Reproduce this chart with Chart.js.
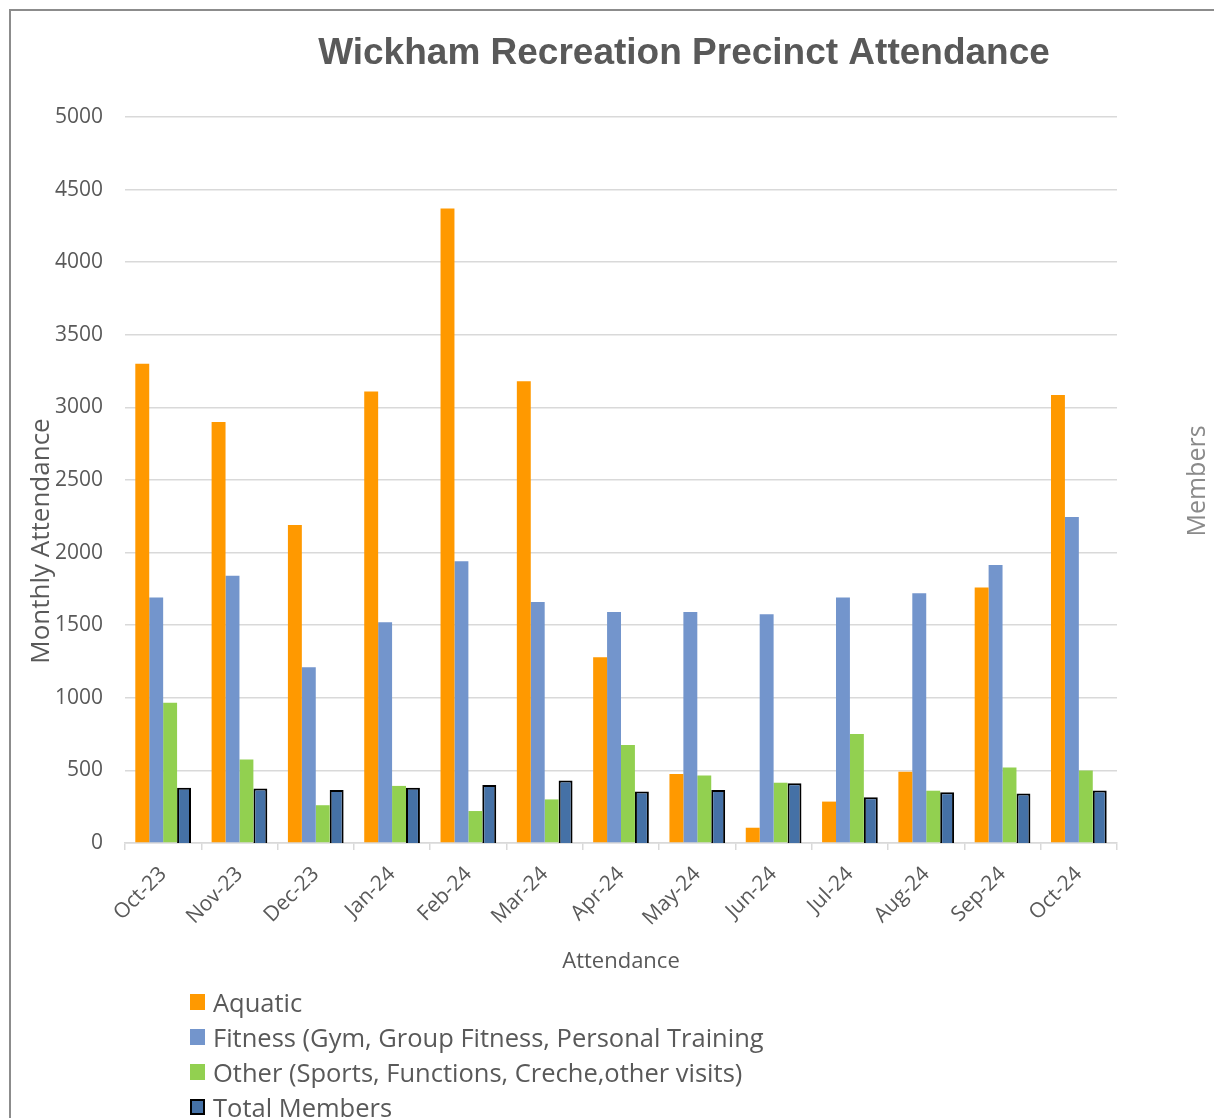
<!DOCTYPE html>
<html lang="en">
<head>
    <meta charset="UTF-8">
    <meta name="viewport" content="width=device-width, initial-scale=1.0">
    <title>Wickham Recreation Precinct Attendance</title>
    <script src="https://cdn.jsdelivr.net/npm/chart.js"></script>
    <style>
        html, body { margin: 0; padding: 0; overflow: hidden; background: #fff; }
        body { width: 1214px; height: 1118px; position: relative; font-family: "Open Sans", sans-serif; }
        .frame {
            position: absolute; left: 9px; top: 9px; width: 1400px; height: 1400px;
            border-left: 2px solid #8c8c8c; border-top: 2px solid #8c8c8c;
        }
        .chart-box { position: absolute; left: 0; top: 0; width: 1214px; height: 985px; }
        .legend { position: absolute; left: 190px; top: 984px; list-style: none; margin: 0; padding: 0; }
        .legend li { display: flex; align-items: center; height: 35px; font-size: 25.5px; color: #595959; white-space: nowrap; }
        .legend .box { width: 15px; height: 16px; margin-right: 8px; box-sizing: border-box; }
    </style>
</head>
<body>
    <div class="frame"></div>
    <div class="chart-box">
        <canvas id="attendanceChart"></canvas>
    </div>
    <ul class="legend" id="legend"></ul>

    <script>
        // values
        const months = ['Oct-23', 'Nov-23', 'Dec-23', 'Jan-24', 'Feb-24', 'Mar-24', 'Apr-24',
                        'May-24', 'Jun-24', 'Jul-24', 'Aug-24', 'Sep-24', 'Oct-24'];
        const aquatic = [3300, 2900, 2190, 3110, 4370, 3180, 1280, 475, 105, 285, 490, 1760, 3085];
        const fitness = [1690, 1840, 1210, 1520, 1940, 1660, 1590, 1590, 1575, 1690, 1720, 1915, 2245];
        const other = [965, 575, 260, 393, 220, 300, 675, 465, 415, 750, 360, 520, 500];
        const totalMembers = [380, 375, 365, 380, 400, 430, 355, 365, 412, 315, 350, 340, 362];
        const yTickValues = [0, 500, 1000, 1500, 2000, 2500, 3000, 3500, 4000, 4500, 5000];

        const textGrey = '#595959';
        const gridGrey = '#d9d9d9';
        const bodyFont = '"Open Sans", sans-serif';

        // title and both side titles are placed like the original, not centred by Chart.js
        const extraText = {
            id: 'extraText',
            afterDraw(chart) {
                const ctx = chart.ctx;
                const area = chart.chartArea;
                const midY = (area.top + area.bottom) / 2;
                ctx.save();
                ctx.fillStyle = textGrey;
                ctx.font = 'bold 37px "Liberation Sans", Arial, sans-serif';
                ctx.textAlign = 'center';
                ctx.textBaseline = 'alphabetic';
                ctx.fillText('Wickham Recreation Precinct Attendance', (area.left + area.right) / 2 + 63, 64);

                ctx.font = '26px ' + bodyFont;
                ctx.textBaseline = 'middle';

                ctx.save();
                ctx.translate(42, midY + 61);
                ctx.rotate(-Math.PI / 2);
                ctx.fillText('Monthly Attendance', 0, 0);
                ctx.restore();

                ctx.save();
                ctx.fillStyle = '#8a8a8a';
                ctx.font = '25px ' + bodyFont;
                ctx.translate(area.right + 81, midY + 1);
                ctx.rotate(-Math.PI / 2);
                ctx.fillText('Members', 0, 0);
                ctx.restore();

                ctx.restore();
            }
        };

        const chart = new Chart(document.getElementById('attendanceChart'), {
            type: 'bar',
            data: {
                labels: months,
                datasets: [
                    { label: 'Aquatic', data: aquatic, backgroundColor: '#FF9900', borderWidth: 0, yAxisID: 'y' },
                    { label: 'Fitness (Gym, Group Fitness, Personal Training', data: fitness, backgroundColor: '#7395CC', borderWidth: 0, yAxisID: 'y' },
                    { label: 'Other (Sports, Functions, Creche,other visits)', data: other, backgroundColor: '#92D050', borderWidth: 0, yAxisID: 'y' },
                    { label: 'Total Members', data: totalMembers, backgroundColor: '#4571A6', borderColor: '#000000', borderWidth: 2, yAxisID: 'y2' }
                ]
            },
            options: {
                responsive: true,
                maintainAspectRatio: false,
                animation: false,
                categoryPercentage: 0.73,
                barPercentage: 1.0,
                layout: { padding: { top: 117, left: 55, right: 97, bottom: 10 } },
                plugins: {
                    legend: { display: false },
                    title: { display: false },
                    tooltip: { enabled: false }
                },
                scales: {
                    x: {
                        afterFit(scale) { scale.paddingLeft = 0; scale.paddingRight = 0; },
                        grid: { display: true, drawOnChartArea: false, offset: true, tickLength: 7, color: gridGrey, lineWidth: 1.5 },
                        border: { display: true, color: gridGrey, width: 1.5 },
                        ticks: {
                            color: textGrey, font: { family: bodyFont, size: 21 },
                            maxRotation: 45, minRotation: 45, padding: 12
                        },
                        title: {
                            display: true, text: 'Attendance', color: textGrey,
                            font: { family: bodyFont, size: 22 },
                            padding: { top: 6, bottom: 0 }
                        }
                    },
                    y: {
                        position: 'left',
                        min: 0, max: 5000,
                        afterBuildTicks(scale) { scale.ticks = yTickValues.map(v => ({ value: v })); },
                        afterFit(scale) { scale.width = 70; },
                        grid: { color: gridGrey, lineWidth: 1.5, drawTicks: false },
                        border: { display: false },
                        ticks: {
                            color: textGrey, font: { family: bodyFont, size: 21 }, padding: 22,
                            callback: value => String(value)
                        }
                    },
                    y2: {
                        display: false,
                        min: 0, max: 5000
                    }
                }
            },
            plugins: [extraText]
        });

        // legend as a plain list under the canvas, built from the datasets
        document.getElementById('legend').innerHTML = chart.data.datasets.map(ds => `
            <li><span class="box" style="background:${ds.backgroundColor};${ds.borderWidth ? 'border:2px solid ' + ds.borderColor + ';' : ''}"></span>${ds.label}</li>
        `).join('');
    </script>
</body>
</html>
